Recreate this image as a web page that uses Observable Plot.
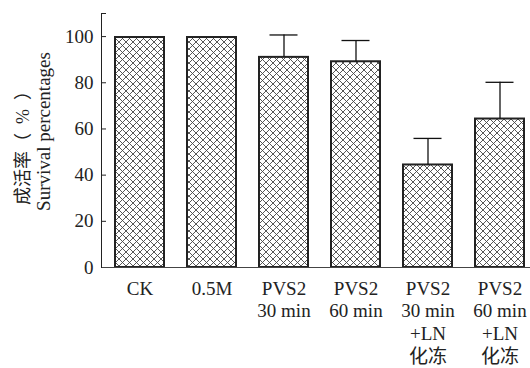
<!DOCTYPE html>
<html><head><meta charset="utf-8">
<script src="https://cdn.jsdelivr.net/npm/d3@7"></script>
<script src="https://cdn.jsdelivr.net/npm/@observablehq/plot@0.6"></script>
<style>body{margin:0;background:#fff}</style>
</head><body><div id="chart"></div>
<script>
const categories = ["CK","0.5M","PVS2 30","PVS2 60","PVS2 30 LN","PVS2 60 LN"];
const tickLabels = ["CK","0.5M","PVS2\n30 min","PVS2\n60 min","PVS2\n30 min\n+LN\n化冻","PVS2\n60 min\n+LN\n化冻"];
const survival = [99.6,99.6,91,89.1,44.4,64.3];
const errors = [0,0,9.7,9.2,11.5,15.9];
const yTicks = [0,20,40,60,80,100];
const yTitleCn = "成活率（\u2002%\u2002）";
const yTitleEn = "Survival percentages";

const data = categories.map((c,i)=>({cat:c, label: tickLabels[i], value: survival[i], err: errors[i]}));
const withErr = data.filter(d=>d.err>0);
const labelOf = new Map(data.map(d=>[d.cat,d.label]));

const plot = Plot.plot({
  width:530, height:368, marginLeft:101, marginRight:0, marginTop:13, marginBottom:101,
  style:{fontFamily:"'Liberation Serif','Noto Sans CJK SC',serif", fontSize:"19px", color:"#222", background:"#fff"},
  x:{domain:categories, paddingInner:0.325, paddingOuter:0.117, align:0.68, axis:null},
  y:{domain:[0,110], axis:null},
  marks:[
    Plot.barY(data,{x:"cat", y:"value", fill:"url(#xhatch)", stroke:"#222", strokeWidth:2}),
    Plot.ruleX(withErr,{x:"cat", y1:"value", y2:d=>d.value+d.err, stroke:"#111", strokeWidth:1.3}),
    Plot.tickY(withErr,{x:"cat", y:d=>d.value+d.err, insetLeft:10.5, insetRight:10.5, stroke:"#111", strokeWidth:1.3}),
    Plot.ruleY([...yTicks,110],{insetRight:424, stroke:"#222"}),
    Plot.ruleY([0],{stroke:"#444"}),
    Plot.frame({anchor:"left", stroke:"#222"}),
    Plot.axisY({ticks:yTicks, tickSize:0, tickPadding:8, fontSize:19, label:null}),
    Plot.axisX({tickSize:0, tickPadding:11, tickFormat:d=>labelOf.get(d), lineHeight:1.2, fontSize:19, label:null}),
    Plot.text([yTitleCn],{frameAnchor:"left", textAnchor:"middle", lineAnchor:"middle", rotate:-90, dx:-78, dy:3, fontSize:18}),
    Plot.text([yTitleEn],{frameAnchor:"left", textAnchor:"middle", lineAnchor:"middle", rotate:-90, dx:-58, dy:-9, fontSize:19})
  ]
});
const svg = d3.select(plot);
const defs = svg.insert("defs", ":first-child");
const pat = defs.append("pattern").attr("id","xhatch").attr("patternUnits","userSpaceOnUse").attr("width",7).attr("height",7);
pat.append("rect").attr("width",7).attr("height",7).attr("fill","#fff");
pat.append("path").attr("d","M0,0L7,7M7,0L0,7M-1,6L1,8M6,-1L8,1M-1,1L1,-1M6,8L8,6").attr("stroke","#444").attr("stroke-width",0.9).attr("fill","none");
document.getElementById("chart").appendChild(plot);
</script>
</body></html>
